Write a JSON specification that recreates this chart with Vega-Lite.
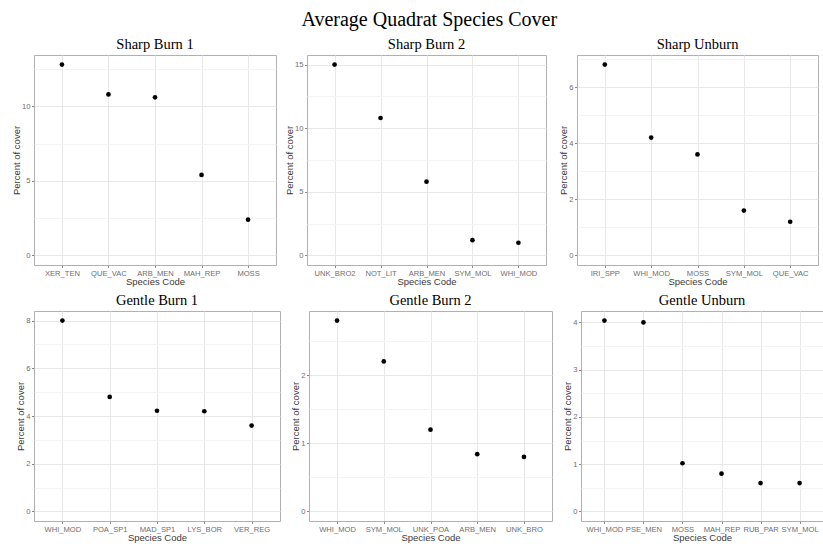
{
  "$schema": "https://vega.github.io/schema/vega-lite/v6.json",
  "padding": {"left": 11, "top": 10, "right": 1, "bottom": 2},
  "background": "white",
  "title": {"text": "Average Quadrat Species Cover", "fontSize": 20, "anchor": "middle", "dx": 12, "offset": 6},
  "data": {"values": [
    {"panel": "Sharp Burn 1", "species": "XER_TEN", "cover": 12.8},
    {"panel": "Sharp Burn 1", "species": "QUE_VAC", "cover": 10.8},
    {"panel": "Sharp Burn 1", "species": "ARB_MEN", "cover": 10.6},
    {"panel": "Sharp Burn 1", "species": "MAH_REP", "cover": 5.4},
    {"panel": "Sharp Burn 1", "species": "MOSS", "cover": 2.4},
    {"panel": "Sharp Burn 2", "species": "UNK_BRO2", "cover": 15.0},
    {"panel": "Sharp Burn 2", "species": "NOT_LIT", "cover": 10.8},
    {"panel": "Sharp Burn 2", "species": "ARB_MEN", "cover": 5.8},
    {"panel": "Sharp Burn 2", "species": "SYM_MOL", "cover": 1.2},
    {"panel": "Sharp Burn 2", "species": "WHI_MOD", "cover": 1.0},
    {"panel": "Sharp Unburn", "species": "IRI_SPP", "cover": 6.8},
    {"panel": "Sharp Unburn", "species": "WHI_MOD", "cover": 4.2},
    {"panel": "Sharp Unburn", "species": "MOSS", "cover": 3.6},
    {"panel": "Sharp Unburn", "species": "SYM_MOL", "cover": 1.6},
    {"panel": "Sharp Unburn", "species": "QUE_VAC", "cover": 1.2},
    {"panel": "Gentle Burn 1", "species": "WHI_MOD", "cover": 8.0},
    {"panel": "Gentle Burn 1", "species": "POA_SP1", "cover": 4.8},
    {"panel": "Gentle Burn 1", "species": "MAD_SP1", "cover": 4.22},
    {"panel": "Gentle Burn 1", "species": "LYS_BOR", "cover": 4.2},
    {"panel": "Gentle Burn 1", "species": "VER_REG", "cover": 3.6},
    {"panel": "Gentle Burn 2", "species": "WHI_MOD", "cover": 2.8},
    {"panel": "Gentle Burn 2", "species": "SYM_MOL", "cover": 2.2},
    {"panel": "Gentle Burn 2", "species": "UNK_POA", "cover": 1.2},
    {"panel": "Gentle Burn 2", "species": "ARB_MEN", "cover": 0.84},
    {"panel": "Gentle Burn 2", "species": "UNK_BRO", "cover": 0.8},
    {"panel": "Gentle Unburn", "species": "WHI_MOD", "cover": 4.04},
    {"panel": "Gentle Unburn", "species": "PSE_MEN", "cover": 4.0},
    {"panel": "Gentle Unburn", "species": "MOSS", "cover": 1.02},
    {"panel": "Gentle Unburn", "species": "MAH_REP", "cover": 0.8},
    {"panel": "Gentle Unburn", "species": "RUB_PAR", "cover": 0.6},
    {"panel": "Gentle Unburn", "species": "SYM_MOL", "cover": 0.6}
  ]},
  "columns": 1,
  "align": "none",
  "spacing": 5,
  "concat": [
    {
      "hconcat": [
        {
          "title": "Sharp Burn 1", "width": 242, "height": 210,
          "transform": [{"filter": "datum.panel === 'Sharp Burn 1'"}],
          "layer": [
            {"mark": {"type": "point", "opacity": 0}, "encoding": {"y": {"field": "cover", "type": "quantitative", "scale": {"domain": [-0.64, 13.44], "nice": false, "zero": false}, "axis": {"orient": "right", "values": [2.5, 7.5, 12.5], "labels": false, "ticks": false, "domain": false, "title": null, "grid": true, "gridColor": "#f3f3f3"}}}},
            {"mark": {"type": "circle", "size": 22, "color": "black", "opacity": 1}, "encoding": {
              "x": {"field": "species", "type": "nominal", "sort": null, "scale": {"type": "point", "padding": 0.6}, "axis": {"title": "Species Code", "labelAngle": 0, "grid": true}},
              "y": {"field": "cover", "type": "quantitative", "scale": {"domain": [-0.64, 13.44], "nice": false, "zero": false}, "axis": {"title": "Percent of cover", "values": [0, 5, 10], "grid": true}}}}
          ],
          "resolve": {"axis": {"y": "independent"}}
        },
        {
          "title": "Sharp Burn 2", "width": 239, "height": 210,
          "transform": [{"filter": "datum.panel === 'Sharp Burn 2'"}],
          "layer": [
            {"mark": {"type": "point", "opacity": 0}, "encoding": {"y": {"field": "cover", "type": "quantitative", "scale": {"domain": [-0.75, 15.75], "nice": false, "zero": false}, "axis": {"orient": "right", "values": [2.5, 7.5, 12.5], "labels": false, "ticks": false, "domain": false, "title": null, "grid": true, "gridColor": "#f3f3f3"}}}},
            {"mark": {"type": "circle", "size": 22, "color": "black", "opacity": 1}, "encoding": {
              "x": {"field": "species", "type": "nominal", "sort": null, "scale": {"type": "point", "padding": 0.6}, "axis": {"title": "Species Code", "labelAngle": 0, "grid": true}},
              "y": {"field": "cover", "type": "quantitative", "scale": {"domain": [-0.75, 15.75], "nice": false, "zero": false}, "axis": {"title": "Percent of cover", "values": [0, 5, 10, 15], "grid": true}}}}
          ],
          "resolve": {"axis": {"y": "independent"}}
        },
        {
          "title": "Sharp Unburn", "width": 241, "height": 210,
          "transform": [{"filter": "datum.panel === 'Sharp Unburn'"}],
          "layer": [
            {"mark": {"type": "point", "opacity": 0}, "encoding": {"y": {"field": "cover", "type": "quantitative", "scale": {"domain": [-0.34, 7.14], "nice": false, "zero": false}, "axis": {"orient": "right", "values": [1, 3, 5, 7], "labels": false, "ticks": false, "domain": false, "title": null, "grid": true, "gridColor": "#f3f3f3"}}}},
            {"mark": {"type": "circle", "size": 22, "color": "black", "opacity": 1}, "encoding": {
              "x": {"field": "species", "type": "nominal", "sort": null, "scale": {"type": "point", "padding": 0.6}, "axis": {"title": "Species Code", "labelAngle": 0, "grid": true}},
              "y": {"field": "cover", "type": "quantitative", "scale": {"domain": [-0.34, 7.14], "nice": false, "zero": false}, "axis": {"title": "Percent of cover", "values": [0, 2, 4, 6], "grid": true}}}}
          ],
          "resolve": {"axis": {"y": "independent"}}
        }
      ],
      "bounds": "flush",
      "spacing": 31
    },
    {
      "hconcat": [
        {
          "title": "Gentle Burn 1", "width": 246, "height": 210,
          "transform": [{"filter": "datum.panel === 'Gentle Burn 1'"}],
          "layer": [
            {"mark": {"type": "point", "opacity": 0}, "encoding": {"y": {"field": "cover", "type": "quantitative", "scale": {"domain": [-0.4, 8.4], "nice": false, "zero": false}, "axis": {"orient": "right", "values": [1, 3, 5, 7], "labels": false, "ticks": false, "domain": false, "title": null, "grid": true, "gridColor": "#f3f3f3"}}}},
            {"mark": {"type": "circle", "size": 22, "color": "black", "opacity": 1}, "encoding": {
              "x": {"field": "species", "type": "nominal", "sort": null, "scale": {"type": "point", "padding": 0.6}, "axis": {"title": "Species Code", "labelAngle": 0, "grid": true}},
              "y": {"field": "cover", "type": "quantitative", "scale": {"domain": [-0.4, 8.4], "nice": false, "zero": false}, "axis": {"title": "Percent of cover", "values": [0, 2, 4, 6, 8], "grid": true}}}}
          ],
          "resolve": {"axis": {"y": "independent"}}
        },
        {
          "title": "Gentle Burn 2", "width": 243, "height": 210,
          "transform": [{"filter": "datum.panel === 'Gentle Burn 2'"}],
          "layer": [
            {"mark": {"type": "point", "opacity": 0}, "encoding": {"y": {"field": "cover", "type": "quantitative", "scale": {"domain": [-0.14, 2.94], "nice": false, "zero": false}, "axis": {"orient": "right", "values": [0.5, 1.5, 2.5], "labels": false, "ticks": false, "domain": false, "title": null, "grid": true, "gridColor": "#f3f3f3"}}}},
            {"mark": {"type": "circle", "size": 22, "color": "black", "opacity": 1}, "encoding": {
              "x": {"field": "species", "type": "nominal", "sort": null, "scale": {"type": "point", "padding": 0.6}, "axis": {"title": "Species Code", "labelAngle": 0, "grid": true}},
              "y": {"field": "cover", "type": "quantitative", "scale": {"domain": [-0.14, 2.94], "nice": false, "zero": false}, "axis": {"title": "Percent of cover", "values": [0, 1, 2], "grid": true}}}}
          ],
          "resolve": {"axis": {"y": "independent"}}
        },
        {
          "title": "Gentle Unburn", "width": 242, "height": 210,
          "transform": [{"filter": "datum.panel === 'Gentle Unburn'"}],
          "layer": [
            {"mark": {"type": "point", "opacity": 0}, "encoding": {"y": {"field": "cover", "type": "quantitative", "scale": {"domain": [-0.202, 4.242], "nice": false, "zero": false}, "axis": {"orient": "right", "values": [0.5, 1.5, 2.5, 3.5], "labels": false, "ticks": false, "domain": false, "title": null, "grid": true, "gridColor": "#f3f3f3"}}}},
            {"mark": {"type": "circle", "size": 22, "color": "black", "opacity": 1}, "encoding": {
              "x": {"field": "species", "type": "nominal", "sort": null, "scale": {"type": "point", "padding": 0.6}, "axis": {"title": "Species Code", "labelAngle": 0, "grid": true}},
              "y": {"field": "cover", "type": "quantitative", "scale": {"domain": [-0.202, 4.242], "nice": false, "zero": false}, "axis": {"title": "Percent of cover", "values": [0, 1, 2, 3, 4], "grid": true}}}}
          ],
          "resolve": {"axis": {"y": "independent"}}
        }
      ],
      "bounds": "flush",
      "spacing": 29
    }
  ],
  "config": {
    "view": {"stroke": "#b0b0b0", "strokeWidth": 1},
    "axis": {"labelFont": "Liberation Sans", "labelFontSize": 7.6, "labelColor": "#6e6e6e", "titleFont": "Liberation Sans", "titleFontWeight": "normal", "titleColor": "#3a3a3a", "titleFontSize": 9.5, "tickColor": "#8a8a8a", "tickSize": 2.5, "domain": false, "gridColor": "#e8e8e8", "labelPadding": 1.5, "titlePadding": 0},
    "title": {"font": "Liberation Serif", "fontWeight": "normal", "fontSize": 14.5, "color": "black", "offset": 3}
  }
}
